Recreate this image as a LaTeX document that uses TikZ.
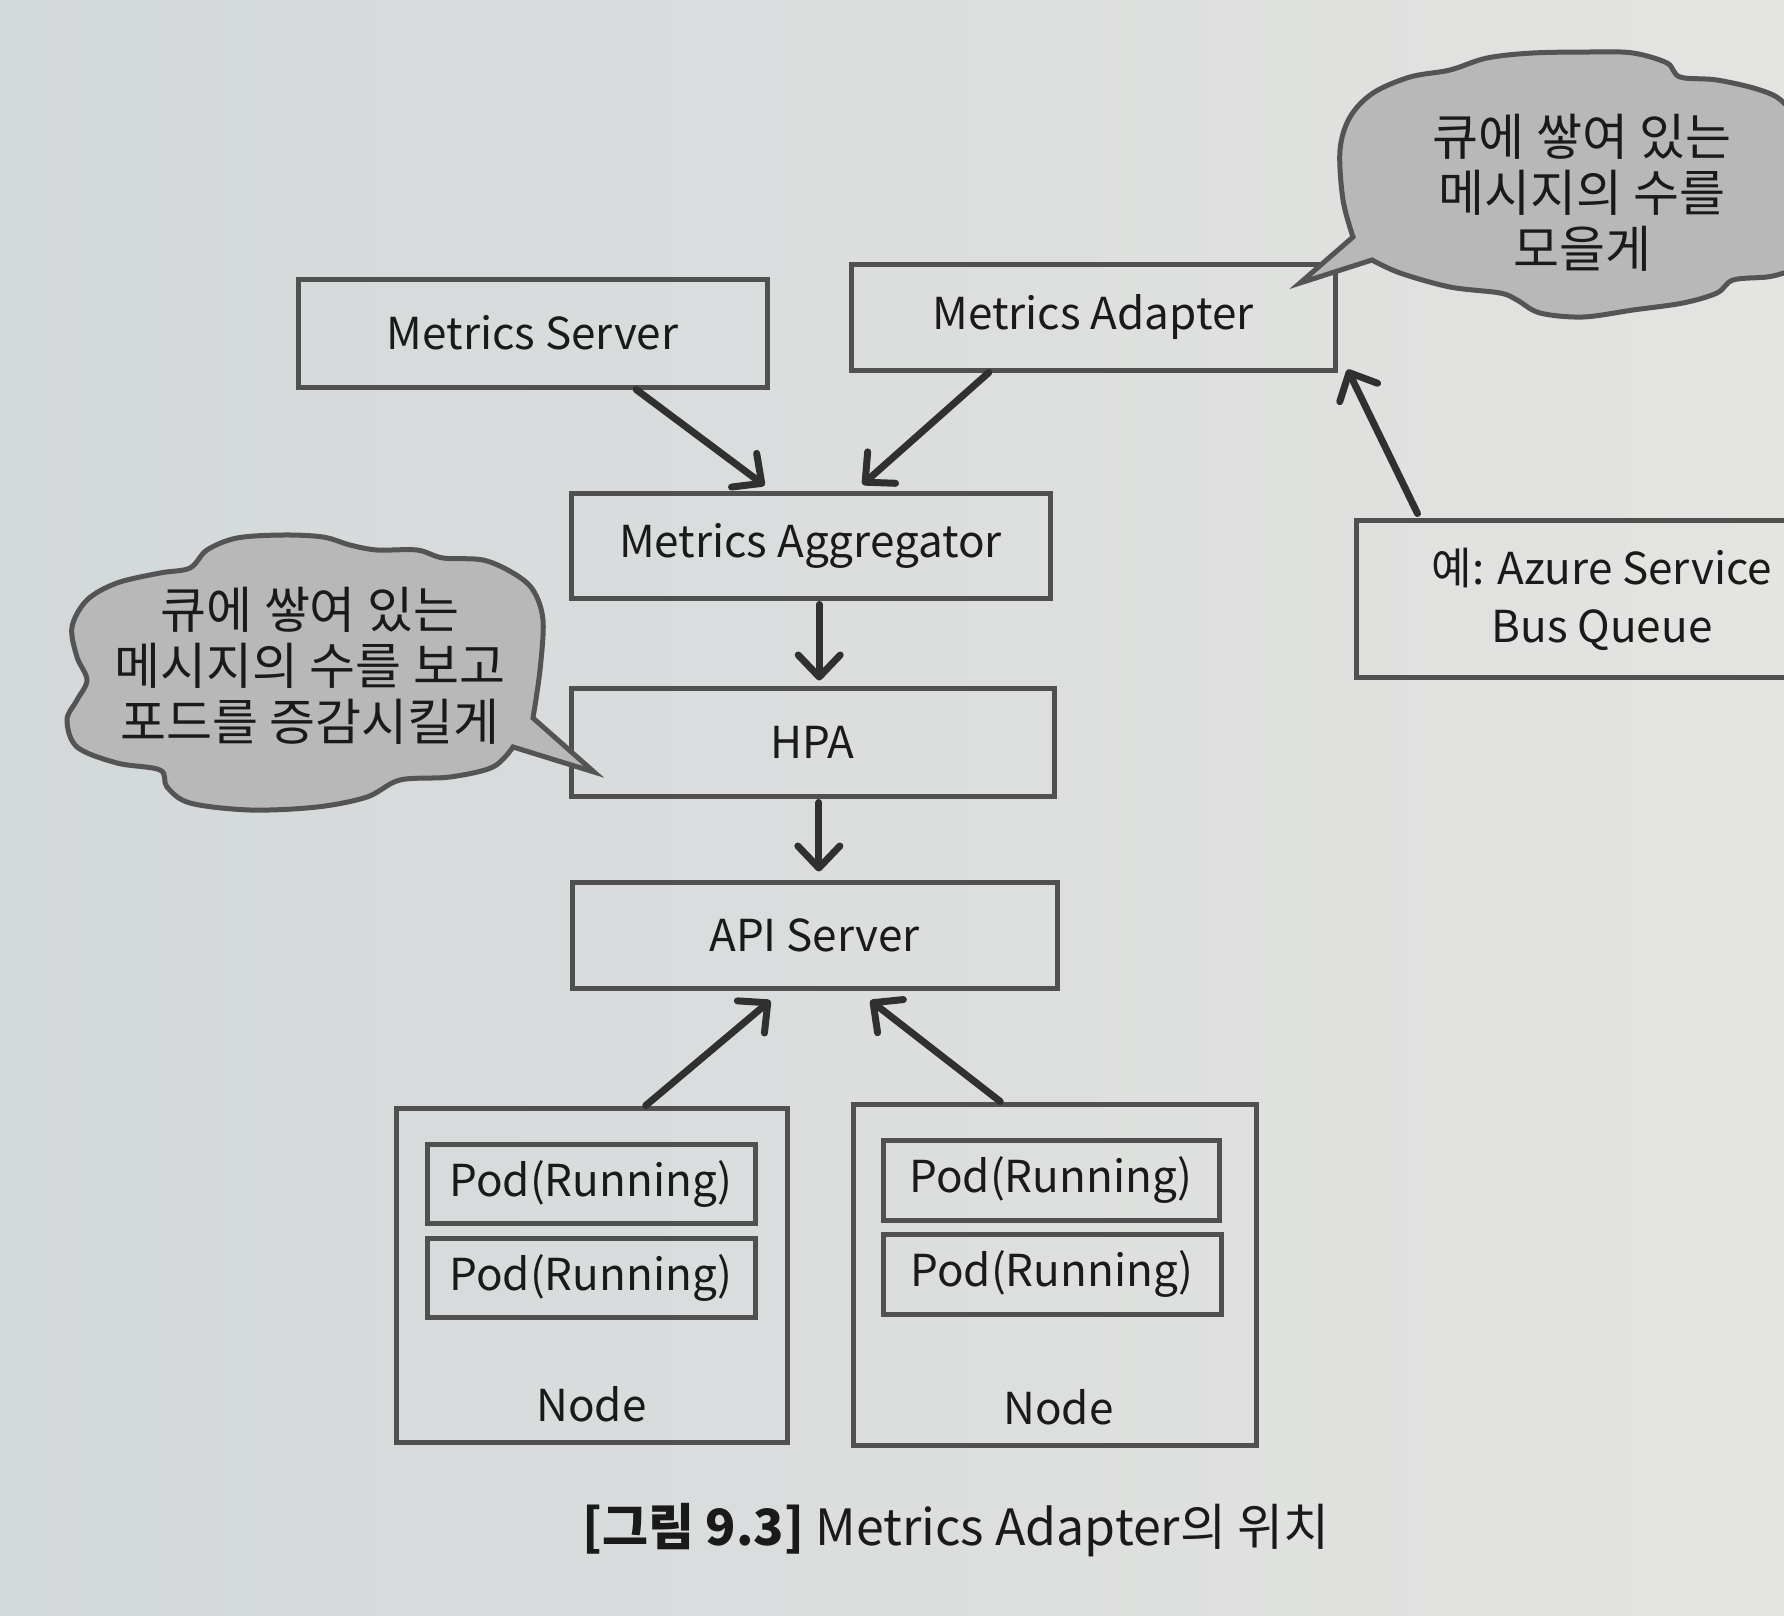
\documentclass[tikz,border=0pt]{standalone}
\usepackage{fontspec}
\setmainfont{Noto Sans CJK KR}
\usetikzlibrary{arrows.meta,calc}
\definecolor{bgL}{RGB}{211,216,218}
\definecolor{bgM}{RGB}{232,233,231}
\definecolor{bgR}{RGB}{228,228,225}
\definecolor{boxc}{RGB}{80,80,80}
\definecolor{arrc}{RGB}{48,48,48}
\definecolor{txtc}{RGB}{26,26,26}
\definecolor{cloudf}{RGB}{184,184,184}
\definecolor{cloudd}{RGB}{84,84,84}
\begin{document}
\begin{tikzpicture}[x=0.5pt,y=-0.5pt,
  box/.style={draw=boxc, line width=2.5pt, inner sep=0pt, text=txtc,
    font=\fontsize{22}{26}\selectfont},
  lbl/.style={inner sep=0pt, text=txtc, font=\fontsize{22}{26}\selectfont},
  twoline/.style={inner sep=0pt, text=txtc, align=center, font=\fontsize{22}{29}\selectfont},
  ctext/.style={inner sep=0pt, text=txtc, align=center, font=\fontsize{25}{28}\selectfont},
  capt/.style={inner sep=0pt, text=txtc, font=\fontsize{25}{30}\selectfont},
  arr/.style={draw=arrc, line width=3.5pt, line cap=round,
    -{Straight Barb[length=11pt, width=21pt, line cap=round, line join=round]}},
  cloudshape/.style={draw=cloudd, fill=cloudf, line width=2.5pt, line join=miter}]
\useasboundingbox (0,0) rectangle (1784,1616);
\shade[left color=bgL, middle color=bgM, right color=bgR] (0,0) rectangle (1784,1616);

% boxes
\node[box, minimum width=234.5pt, minimum height=54pt] (ms) at (532.5,333) {Metrics Server};
\node[box, minimum width=242pt, minimum height=53pt] (ma) at (1093,317) {Metrics Adapter};
\node[box, minimum width=239.5pt, minimum height=52.5pt] (agg) at (810.5,545.5) {Metrics Aggregator};
\node[box, minimum width=241.5pt, minimum height=54pt] (hpa) at (812.5,742) {HPA};
\node[box, minimum width=242.5pt, minimum height=53pt] (api) at (814.5,935) {API Server};
\node[box, minimum width=195.5pt, minimum height=167pt] (node1) at (591.5,1275) {};
\node[box, minimum width=201.5pt, minimum height=170.5pt] (node2) at (1054.5,1274.5) {};
\node[box, minimum width=164pt, minimum height=39.5pt] (p1a) at (591,1183.5) {Pod(Running)};
\node[box, minimum width=164pt, minimum height=39.5pt] (p1b) at (591,1277.5) {Pod(Running)};
\node[box, minimum width=168pt, minimum height=40pt] (p2a) at (1051,1180) {Pod(Running)};
\node[box, minimum width=169pt, minimum height=40pt] (p2b) at (1052,1274) {Pod(Running)};
\node[lbl] (n1lbl) at ($(node1.south)+(0,-40)$) {Node};
\node[lbl] (n2lbl) at ($(node2.south)+(4,-40)$) {Node};
\node[box, minimum width=247pt, minimum height=78.5pt] (az) at (1603,598.5) {};
\node[twoline] (aztxt) at (1602,599) {예: Azure Service\\Bus Queue};

% connector end points
\coordinate (s1) at ($(ms.south west)!0.7186!(ms.south east)$);
\coordinate (e1) at ($(agg.north west)!0.405!(agg.north east)+(0,-5)$);
\coordinate (s2) at ($(ma.south west)!0.287!(ma.south east)$);
\coordinate (e2) at ($(agg.north west)!0.6075!(agg.north east)+(0,-6)$);
\coordinate (s3) at ($(agg.south west)!0.518!(agg.south east)+(0,4)$);
\coordinate (e3) at ($(s3 |- hpa.north)+(0,-5)$);
\coordinate (s4) at ($(hpa.south west)!0.513!(hpa.south east)+(0,4)$);
\coordinate (e4) at ($(s4 |- api.north)+(0,-8)$);
\coordinate (s5) at ($(node1.north west)!0.637!(node1.north east)$);
\coordinate (e5) at ($(api.south west)!0.41!(api.south east)+(0,10)$);
\coordinate (s6) at ($(node2.north west)!0.367!(node2.north east)$);
\coordinate (e6) at ($(api.south west)!0.614!(api.south east)+(0,10)$);
\coordinate (s7) at ($(az.north west)+(64,-4)$);
\coordinate (e7) at ($(ma.south east)+(10,-3)$);

\draw[arr] (s1) -- (e1);
\draw[arr] (s2) -- (e2);
\draw[arr] (s3) -- (e3);
\draw[arr] (s4) -- (e4);
\draw[arr] (s5) -- (e5);
\draw[arr] (s6) -- (e6);
\draw[arr] (s7) -- (e7);

% top-right cloud
\draw[cloudshape] plot[smooth, tension=0.55] coordinates {
 (1353,237) (1343,200) (1340,150) (1350,117) (1373,93) (1410,77) (1450,70)
 (1487,58) (1533,53) (1593,52) (1633,53) (1667,63) (1680,77) (1717,80)
 (1760,90) (1784,103) (1810,140) (1815,220) (1800,268) (1784,273) (1767,277)
 (1733,280) (1717,293) (1683,303) (1633,310) (1583,317) (1540,313) (1517,300)
 (1500,293) (1450,287) (1400,273) (1372,260)} -- (1300,283) -- cycle;
\node[ctext] (c2t) at (1582,193) {큐에 쌓여 있는\\메시지의 수를\\모을게};

% left cloud
\draw[cloudshape] plot[smooth, tension=0.55] coordinates {
 (533,718) (540,670) (543,620) (533,590) (513,573) (483,560) (443,558)
 (417,550) (377,550) (350,545) (323,537) (283,535) (237,538) (207,550)
 (190,568) (160,573) (117,583) (87,600) (72,627) (77,657) (87,680) (77,700)
 (67,720) (77,747) (117,763) (160,770) (167,787) (190,803) (250,810)
 (317,807) (367,797) (400,780) (450,777) (493,767) (513,747)} -- (594,772) -- cycle;
\node[ctext] (c1t) at (310,666) {큐에 쌓여 있는\\메시지의 수를 보고\\포드를 증감시킬게};

% caption
\node[capt] (cap) at (956,1530) {\textbf{[그림 9.3]} Metrics Adapter의 위치};
\end{tikzpicture}
\end{document}
